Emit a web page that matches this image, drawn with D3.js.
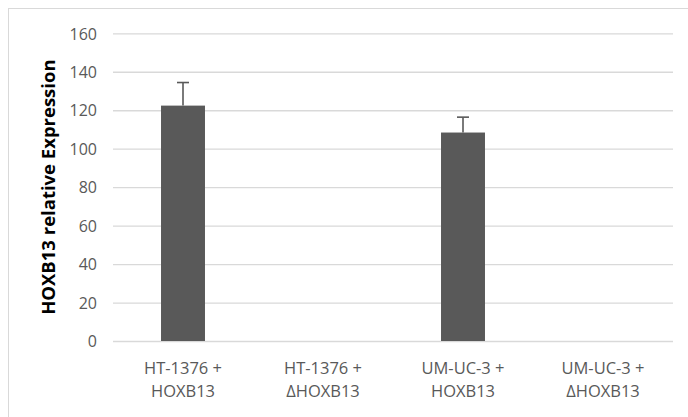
<!DOCTYPE html>
<html>
<head>
<meta charset="utf-8">
<script src="https://cdn.jsdelivr.net/npm/d3@7"></script>
<style>
  html, body { margin: 0; padding: 0; background: #fff; }
  svg { display: block; }
  text { font-family: "Open Sans", "Liberation Sans", sans-serif; }
</style>
</head>
<body>
<svg id="chart" width="688" height="417"></svg>
<script>
// Relative HOXB13 expression per cell-line condition
const categories = [
  ["HT-1376 +", "HOXB13"],
  ["HT-1376 +", "\u0394HOXB13"],
  ["UM-UC-3 +", "HOXB13"],
  ["UM-UC-3 +", "\u0394HOXB13"]
];
const values = [122.4, 0, 108.4, 0];
const errors = [12.0, 0, 8.0, 0];
const yTicks = [0, 20, 40, 60, 80, 100, 120, 140, 160];
const yTitle = "HOXB13 relative Expression";

const plot = { left: 113, right: 673, top: 33.3, bottom: 341 };
const grey = "#595959";

const svg = d3.select("#chart");

// outer chart frame
svg.append("rect")
  .attr("x", 8.5).attr("y", 8.5)
  .attr("width", 700).attr("height", 420)
  .attr("fill", "none").attr("stroke", "#d9d9d9").attr("stroke-width", 1);

const keys = categories.map((c, i) => i);
const x = d3.scaleBand()
  .domain(keys)
  .range([plot.left, plot.right])
  .paddingInner(0.686)
  .paddingOuter(0.343);

const y = d3.scaleLinear()
  .domain([0, 160])
  .range([plot.bottom, plot.top]);

// horizontal gridlines with tick labels
const yAxis = d3.axisLeft(y)
  .tickValues(yTicks)
  .tickSize(-(plot.right - plot.left))
  .tickPadding(16)
  .tickFormat(d3.format("d"));

const gy = svg.append("g")
  .attr("transform", `translate(${plot.left},0)`)
  .call(yAxis);
gy.select(".domain").remove();
gy.selectAll(".tick line").attr("stroke", "#d9d9d9").attr("stroke-width", 1.3);
gy.selectAll(".tick text")
  .attr("fill", grey)
  .attr("font-size", 16)
  .attr("dy", "0.36em");

// bars
svg.append("g").selectAll("rect")
  .data(values)
  .join("rect")
  .attr("x", (d, i) => x(i))
  .attr("y", d => y(d))
  .attr("width", x.bandwidth())
  .attr("height", d => y(0) - y(d))
  .attr("fill", grey);

// error bars (upper whisker only)
const eb = svg.append("g")
  .attr("stroke", grey)
  .attr("stroke-width", 1.6);
values.forEach((v, i) => {
  if (!errors[i]) return;
  const cx = x(i) + x.bandwidth() / 2;
  eb.append("line")
    .attr("x1", cx).attr("x2", cx)
    .attr("y1", y(v)).attr("y2", y(v + errors[i]));
  eb.append("line")
    .attr("x1", cx - 6).attr("x2", cx + 6)
    .attr("y1", y(v + errors[i])).attr("y2", y(v + errors[i]));
});

// category labels (two lines each)
const xl = svg.append("g")
  .attr("fill", grey)
  .attr("font-size", 16.5)
  .attr("text-anchor", "middle");
categories.forEach((lines, i) => {
  const cx = x(i) + x.bandwidth() / 2;
  const t = xl.append("text").attr("x", cx).attr("y", 374);
  lines.forEach((ln, j) => {
    t.append("tspan")
      .attr("x", cx)
      .attr("dy", j === 0 ? 0 : 23)
      .text(ln);
  });
});

// y-axis title
svg.append("text")
  .attr("transform", `translate(55,${(plot.top + plot.bottom) / 2}) rotate(-90)`)
  .attr("text-anchor", "middle")
  .attr("font-weight", "bold")
  .attr("font-size", 18.5)
  .attr("fill", "#000")
  .text(yTitle);
</script>
</body>
</html>
